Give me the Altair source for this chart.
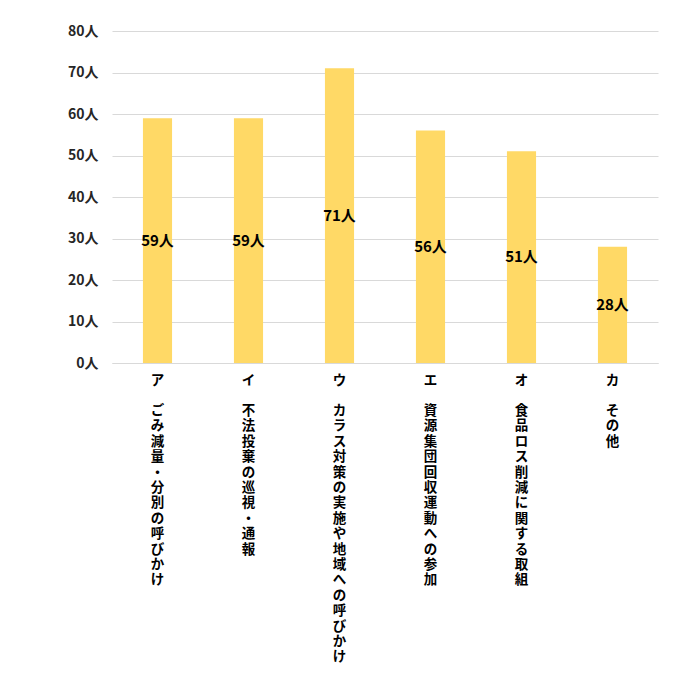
import altair as alt
import pandas as pd

codes = ["ア", "イ", "ウ", "エ", "オ", "カ"]
names = [
    "ごみ減量・分別の呼びかけ",
    "不法投棄の巡視・通報",
    "カラス対策の実施や地域への呼びかけ",
    "資源集団回収運動への参加",
    "食品ロス削減に関する取組",
    "その他",
]
values = [59, 59, 71, 56, 51, 28]

df = pd.DataFrame({
    "cat": [c + "|" + n for c, n in zip(codes, names)],
    "name": names,
    "value": values,
})
df["half"] = df["value"] / 2
df["lab"] = df["value"].astype(str) + "人"

FONT = "Noto Sans CJK JP"

base = alt.Chart(df).encode(
    x=alt.X(
        "cat:N",
        sort=None,
        title=None,
        axis=alt.Axis(
            labelExpr="split(datum.label, '|')[0]",
            labelAngle=0,
            labelAlign="center",
            labelBaseline="top",
            labelFont=FONT,
            labelFontSize=13.5,
            labelFontWeight="bold",
            labelColor="#000000",
            labelLimit=0,
            labelPadding=10,
            ticks=False,
            domain=True,
            domainColor="#d9d9d9",
            domainWidth=1,
            grid=False,
        ),
        scale=alt.Scale(paddingInner=0.68, paddingOuter=0.34),
    )
)

bars = base.mark_bar(color="#FFD966").encode(
    y=alt.Y(
        "value:Q",
        title=None,
        scale=alt.Scale(domain=[0, 80]),
        axis=alt.Axis(
            values=[0, 10, 20, 30, 40, 50, 60, 70, 80],
            labelExpr="datum.value + '人'",
            labelFont=FONT,
            labelFontSize=14,
            labelFontWeight="bold",
            labelColor="#262626",
            labelPadding=14,
            ticks=False,
            domain=False,
            grid=True,
            gridColor="#d9d9d9",
            gridWidth=1,
        ),
    )
)

text = base.mark_text(
    font=FONT, fontSize=15, fontWeight="bold", color="#000000", baseline="middle"
).encode(
    y=alt.Y("half:Q"),
    text="lab:N",
)

names_text = base.transform_calculate(
    vert="split(datum.name, '')"
).mark_text(
    font=FONT, fontSize=13.5, fontWeight="bold", color="#000000",
    baseline="top", align="center", lineHeight=15.4,
).encode(
    y=alt.value(373),
    text="vert:N",
)

chart = (
    alt.layer(bars, text, names_text)
    .properties(
        width=546,
        height=332,
        background="#ffffff",
        autosize=alt.AutoSizeParams(type="none"),
        padding={"left": 104, "top": 23, "right": 20, "bottom": 320},
    )
    .configure_view(strokeWidth=0, stroke="transparent")
)

chart.save("out.html", embed_options={"renderer": "svg", "actions": False})
